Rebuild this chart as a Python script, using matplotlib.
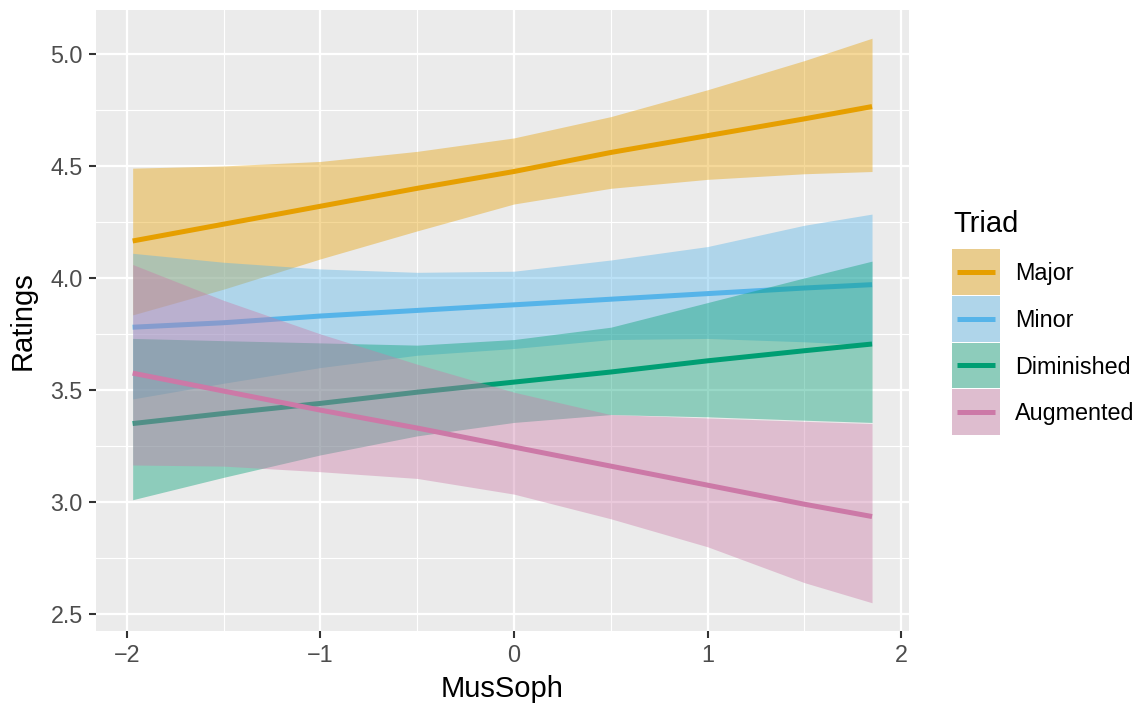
import matplotlib
matplotlib.use("Agg")
import matplotlib.pyplot as plt
from matplotlib.patches import Rectangle
from matplotlib.ticker import MultipleLocator
import numpy as np

plt.rcParams['font.family'] = ['Liberation Sans', 'DejaVu Sans']

# MusSoph values where the fitted ratings were read
mus_soph = [-1.97, -1.5, -1.0, -0.5, 0.0, 0.5, 1.0, 1.5, 1.85]

triads = ['Major', 'Minor', 'Diminished', 'Augmented']
colors = ['#E69F00', '#56B4E9', '#009E73', '#CC79A7']

major_fit = [4.165, 4.24, 4.32, 4.40, 4.475, 4.56, 4.635, 4.71, 4.765]
major_lo = [3.835, 3.95, 4.085, 4.21, 4.33, 4.40, 4.44, 4.465, 4.475]
major_hi = [4.49, 4.50, 4.52, 4.565, 4.625, 4.72, 4.84, 4.97, 5.07]

minor_fit = [3.78, 3.80, 3.83, 3.855, 3.88, 3.905, 3.93, 3.955, 3.97]
minor_lo = [3.46, 3.53, 3.60, 3.655, 3.685, 3.725, 3.73, 3.715, 3.70]
minor_hi = [4.11, 4.07, 4.04, 4.025, 4.03, 4.08, 4.14, 4.235, 4.285]

dim_fit = [3.35, 3.395, 3.44, 3.49, 3.535, 3.58, 3.63, 3.675, 3.705]
dim_lo = [3.01, 3.11, 3.21, 3.295, 3.355, 3.39, 3.38, 3.365, 3.355]
dim_hi = [3.73, 3.72, 3.71, 3.70, 3.725, 3.78, 3.89, 4.00, 4.075]

aug_fit = [3.575, 3.495, 3.41, 3.33, 3.245, 3.16, 3.075, 2.99, 2.935]
aug_lo = [3.165, 3.16, 3.135, 3.105, 3.035, 2.925, 2.80, 2.64, 2.55]
aug_hi = [4.06, 3.90, 3.75, 3.615, 3.49, 3.39, 3.375, 3.36, 3.35]

fits = [major_fit, minor_fit, dim_fit, aug_fit]
lows = [major_lo, minor_lo, dim_lo, aug_lo]
highs = [major_hi, minor_hi, dim_hi, aug_hi]

W, H = 1142, 704
fig = plt.figure(figsize=(W / 100, H / 100), dpi=100)
px_l, px_r, px_t, px_b = 95.7, 909.0, 10.0, 631.0
ax = fig.add_axes([px_l / W, 1 - px_b / H, (px_r - px_l) / W, (px_b - px_t) / H])

ax.set_facecolor('#EBEBEB')
for s in ax.spines.values():
    s.set_visible(False)

# ribbon then line for each triad, in order
z = 2
for name, col, f, lo, hi in zip(triads, colors, fits, lows, highs):
    ax.fill_between(mus_soph, lo, hi, color=col, alpha=0.4, linewidth=0, zorder=z)
    ax.plot(mus_soph, f, color=col, linewidth=3.6, solid_capstyle='butt', zorder=z + 1)
    z += 2

# ggplot style expansion of 5 %
xs = np.array(mus_soph)
xr = xs.max() - xs.min()
ax.set_xlim(xs.min() - 0.05 * xr, xs.max() + 0.05 * xr)
ally = np.concatenate([np.array(v) for v in lows + highs])
yr = ally.max() - ally.min()
ax.set_ylim(ally.min() - 0.05 * yr, ally.max() + 0.05 * yr)

ax.xaxis.set_major_locator(MultipleLocator(1))
ax.xaxis.set_minor_locator(MultipleLocator(0.5))
ax.yaxis.set_major_locator(MultipleLocator(0.5))
ax.yaxis.set_minor_locator(MultipleLocator(0.25))
ax.yaxis.set_major_formatter(matplotlib.ticker.FormatStrFormatter('%.1f'))
ax.grid(which='major', color='white', linewidth=1.65, zorder=0)
ax.grid(which='minor', color='white', linewidth=0.85, zorder=0)
ax.set_axisbelow(True)
ax.tick_params(which='major', length=5.2, width=1.5, color='#333333',
               labelcolor='#4D4D4D', labelsize=16.8, pad=4.2)
ax.tick_params(which='minor', length=0)

ax.set_xlabel('MusSoph', fontsize=21)
ax.set_ylabel('Ratings', fontsize=21)
ax.xaxis.set_label_coords(0.5, (px_b - 675) / (px_b - px_t))
ax.yaxis.set_label_coords((37 - px_l) / (px_r - px_l), 0.5)

# legend drawn in pixel coordinates
lax = fig.add_axes([0, 0, 1, 1])
lax.set_xlim(0, W)
lax.set_ylim(H, 0)
lax.axis('off')
lax.patch.set_visible(False)
lax.text(953, 232, 'Triad', fontsize=21, va='baseline', ha='left')
key_x, key_w, key_h, key_step, key_top = 951.7, 48, 45.5, 46.7, 249.3
for i, (name, col) in enumerate(zip(triads, colors)):
    top = key_top + i * key_step
    lax.add_patch(Rectangle((key_x, top), key_w, key_h, facecolor='#EBEBEB',
                            edgecolor='none'))
    lax.add_patch(Rectangle((key_x, top), key_w, key_h, facecolor=col,
                            alpha=0.4, edgecolor='none'))
    cy = top + key_h / 2
    lax.plot([key_x + 5, key_x + key_w - 5], [cy, cy], color=col, linewidth=3.6,
             solid_capstyle='butt')
    lax.text(1015, cy + 8.3, name, fontsize=16.8, va='baseline', ha='left')

fig.savefig('out.png', dpi=100)
